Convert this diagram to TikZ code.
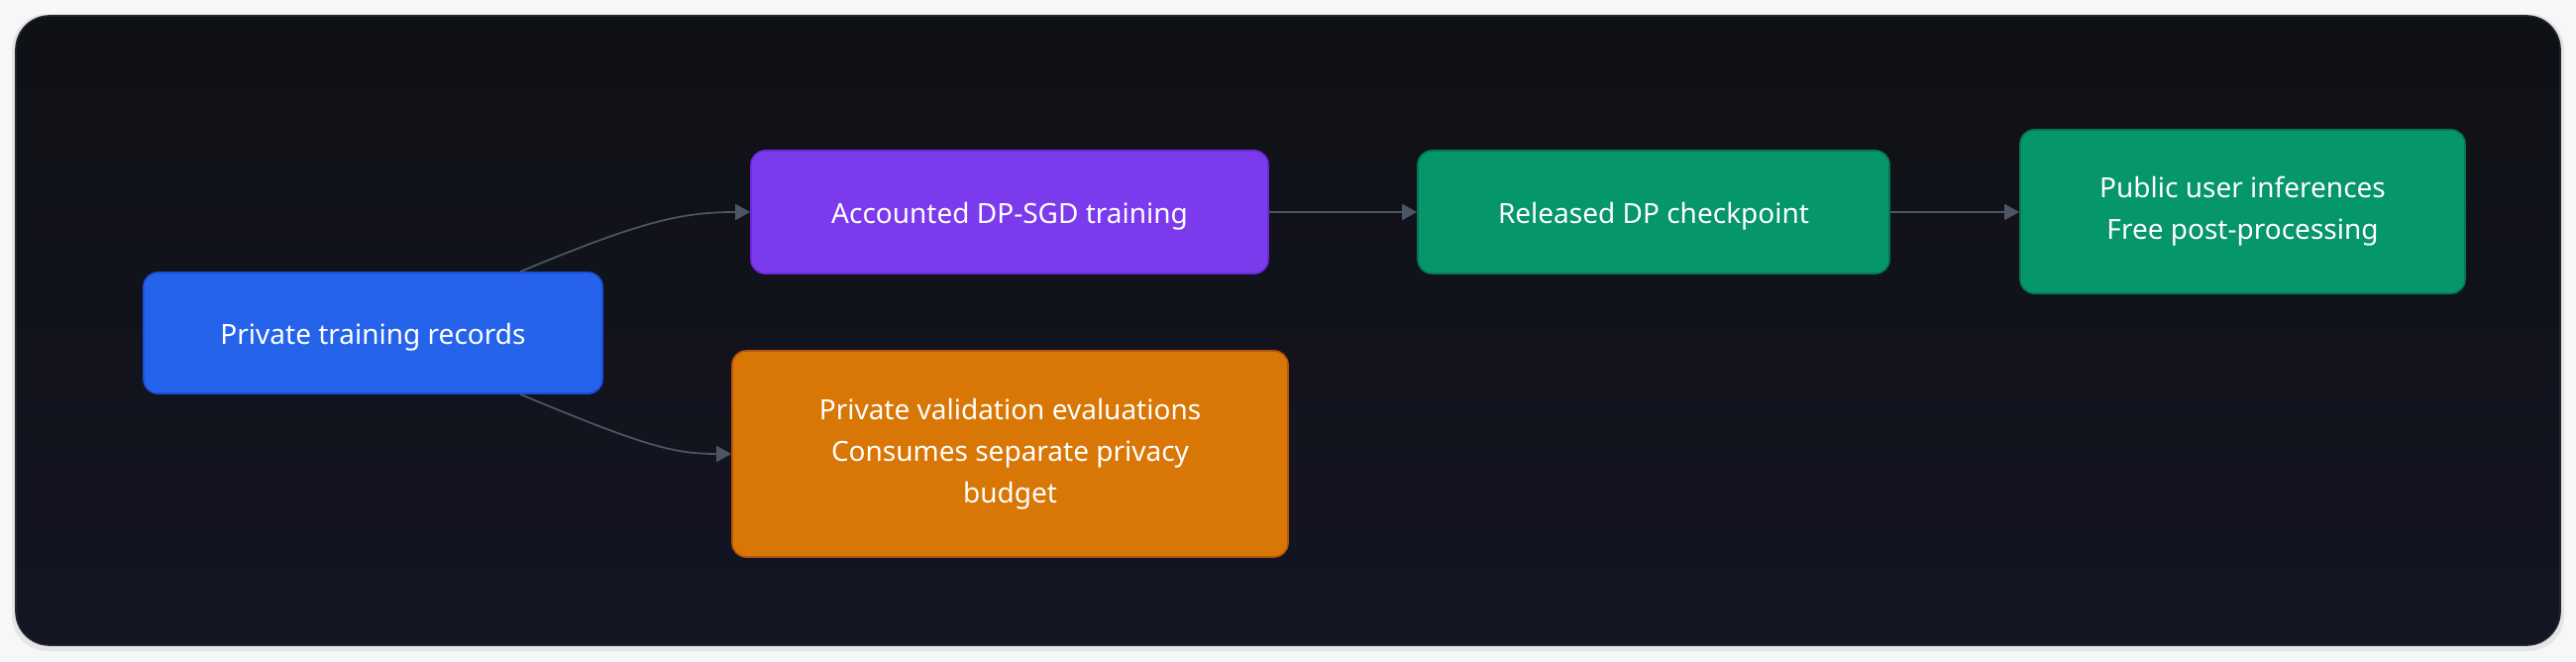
\documentclass[tikz,border=0pt]{standalone}
\usepackage{fontspec}
\setmainfont{Noto Sans}
\usetikzlibrary{arrows.meta,calc}
\definecolor{outerbg}{HTML}{F7F7F8}
\definecolor{paneltop}{HTML}{0F1115}
\definecolor{panelbot}{HTML}{141523}
\definecolor{panelline}{HTML}{1E2433}
\definecolor{edgec}{HTML}{4B5563}
\definecolor{bluef}{HTML}{2563EB}\definecolor{bluel}{HTML}{1D4ED8}
\definecolor{purpf}{HTML}{7C3AED}\definecolor{purpl}{HTML}{6D28D9}
\definecolor{greenf}{HTML}{059669}\definecolor{greenl}{HTML}{047857}
\definecolor{orangef}{HTML}{D97706}\definecolor{orangel}{HTML}{B45309}
\tikzset{
  box/.style={rectangle, rounded corners=7pt, line width=0.8pt, text=white,
    align=center, font=\fontsize{14}{21}\selectfont, inner sep=0pt,
    execute at begin node={\rule{0pt}{14.5pt}}},
  tallbox/.style={box, execute at begin node={\rule{0pt}{17pt}}},
  flow/.style={draw=edgec, line width=0.9pt, -{Triangle[length=7.5pt,width=8pt]}}
}
\begin{document}
\begin{tikzpicture}[x=0.5pt,y=-0.5pt]
\useasboundingbox (0,0) rectangle (2600,668);
\fill[outerbg] (0,0) rectangle (2600,668);
\fill[black!10, rounded corners=18pt] (12,14) rectangle (2588,657);
\shade[top color=paneltop, bottom color=panelbot, rounded corners=17pt, draw=panelline, line width=0.8pt] (16,16) rectangle (2584,651);
\node[box, fill=bluef, draw=bluel, minimum width=231.5pt, minimum height=61pt] (rec) at (376.5,336) {Private training records};
\node[box, fill=purpf, draw=purpl, minimum width=261pt, minimum height=62pt] (sgd) at (1019,214) {Accounted DP-SGD training};
\node[box, fill=greenf, draw=greenl, minimum width=238pt, minimum height=62pt] (ckpt) at (1669,214) {Released DP checkpoint};
\node[tallbox, fill=greenf, draw=greenl, minimum width=224.5pt, minimum height=82.5pt] (pub) at (2263.5,213.5) {Public user inferences\\Free post-processing};
\node[tallbox, fill=orangef, draw=orangel, minimum width=280.5pt, minimum height=104pt] (val) at (1019.5,458) {Private validation evaluations\\Consumes separate privacy\\budget};
\coordinate (recN) at ($(rec.north)+(148.5,0)$);
\coordinate (recS) at ($(rec.south)+(148.5,0)$);
\draw[flow] (recN) .. controls (650,222) and (690,214) .. (sgd.west);
\draw[flow] (recS) .. controls (650,450) and (680,458) .. (val.west);
\draw[flow] (sgd.east) -- (ckpt.west);
\draw[flow] (ckpt.east) -- (ckpt.east -| pub.west);
\end{tikzpicture}
\end{document}
